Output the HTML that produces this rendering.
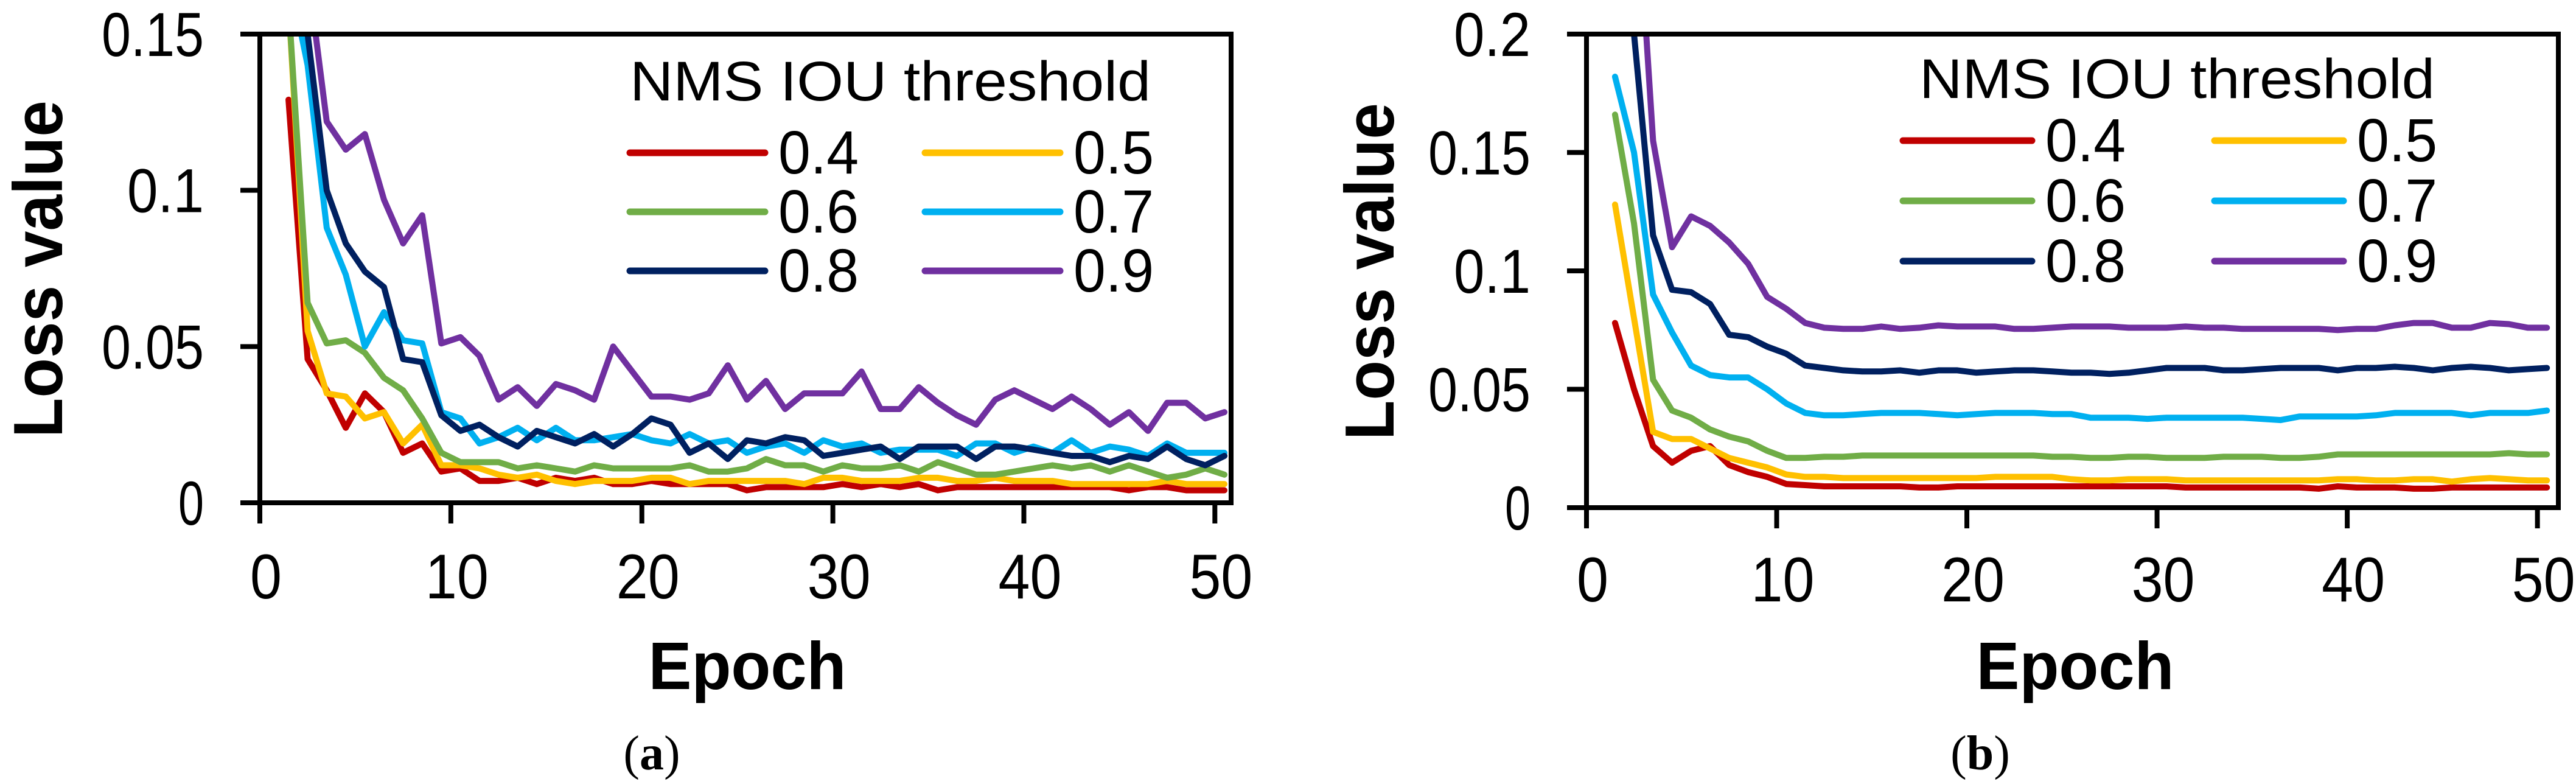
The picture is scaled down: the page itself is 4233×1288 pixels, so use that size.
<!DOCTYPE html>
<html><head><meta charset="utf-8"><style>html,body{margin:0;padding:0;background:#fff}svg{display:block}</style></head>
<body>
<svg id="fig" width="4233" height="1288" viewBox="0 0 4233 1288" xmlns="http://www.w3.org/2000/svg" font-family="Liberation Sans, sans-serif">
<g id="pa"></g>
<g id="pb"></g>
</svg>
<script>
const seriesNames=["0.4","0.5","0.6","0.7","0.8","0.9"];
const seriesColors=["#C00000","#FFC000","#70AD47","#00B0F0","#002060","#7030A0"];
const xTicks=[0,10,20,30,40,50];
const yTicksA=["0","0.05","0.1","0.15"];
const yTicksB=["0","0.05","0.1","0.15","0.2"];
const a04=[.129,.046,.036,.024,.035,.029,.016,.019,.010,.011,.007,.007,.008,.006,.008,.007,.008,.006,.006,.007,.006,.006,.006,.006,.004,.005,.005,.005,.005,.006,.005,.006,.005,.006,.004,.005,.005,.005,.005,.005,.005,.005,.005,.005,.004,.005,.005,.004,.004,.004];
const a05=[.160,.055,.035,.034,.027,.029,.019,.025,.012,.012,.011,.009,.008,.009,.007,.006,.007,.007,.007,.008,.008,.006,.007,.007,.007,.007,.007,.006,.008,.008,.007,.007,.007,.008,.008,.007,.007,.008,.007,.007,.007,.006,.006,.006,.006,.006,.007,.006,.006,.006];
const a06=[.160,.064,.051,.052,.048,.040,.036,.027,.016,.013,.013,.013,.011,.012,.011,.010,.012,.011,.011,.011,.011,.012,.010,.010,.011,.014,.012,.012,.010,.012,.011,.011,.012,.010,.013,.011,.009,.009,.010,.011,.012,.011,.012,.010,.012,.010,.008,.009,.011,.009];
const a07=[.170,.140,.088,.073,.050,.061,.052,.051,.029,.027,.019,.021,.024,.020,.024,.020,.020,.021,.022,.020,.019,.022,.019,.020,.016,.018,.019,.016,.020,.018,.019,.016,.017,.017,.017,.015,.019,.019,.016,.018,.016,.020,.016,.018,.017,.015,.019,.016,.016,.016];
const a08=[.170,.150,.100,.083,.074,.069,.046,.045,.028,.023,.025,.021,.018,.023,.021,.019,.022,.018,.022,.027,.025,.016,.019,.014,.020,.019,.021,.020,.015,.016,.017,.018,.014,.018,.018,.018,.014,.018,.018,.017,.016,.015,.015,.013,.015,.014,.018,.014,.012,.015];
const a09=[.200,.170,.122,.113,.118,.097,.083,.092,.051,.053,.047,.033,.037,.031,.038,.036,.033,.050,.042,.034,.034,.033,.035,.044,.033,.039,.030,.035,.035,.035,.042,.030,.030,.037,.032,.028,.025,.033,.036,.033,.030,.034,.030,.025,.029,.023,.032,.032,.027,.029];
const b04=[.078,.050,.026,.019,.024,.026,.018,.015,.013,.010,.0095,.009,.009,.009,.009,.009,.0085,.0085,.009,.009,.009,.009,.009,.009,.009,.009,.009,.009,.009,.009,.0085,.0085,.0085,.0085,.0085,.0085,.0085,.008,.009,.0085,.0085,.0085,.008,.008,.0085,.0085,.0085,.0085,.0085,.0085];
const b05=[.128,.080,.032,.029,.029,.025,.021,.019,.017,.014,.013,.013,.0125,.0125,.0125,.0125,.0125,.0125,.0125,.0125,.013,.013,.013,.013,.012,.0115,.0115,.012,.012,.012,.0115,.0115,.0115,.0115,.0115,.0115,.0115,.0115,.012,.012,.0115,.0115,.012,.012,.011,.012,.0125,.012,.0115,.0115];
const b06=[.166,.120,.054,.041,.038,.033,.030,.028,.024,.021,.021,.0215,.0215,.022,.022,.022,.022,.022,.022,.022,.022,.022,.022,.0215,.0215,.021,.021,.0215,.0215,.021,.021,.021,.0215,.0215,.0215,.021,.021,.0215,.0225,.0225,.0225,.0225,.0225,.0225,.0225,.0225,.0225,.023,.0225,.0225];
const b07=[.182,.150,.090,.074,.060,.056,.055,.055,.050,.044,.040,.039,.039,.0395,.040,.040,.040,.0395,.039,.0395,.040,.040,.040,.0395,.0395,.038,.038,.038,.0375,.038,.038,.038,.038,.038,.0375,.037,.0385,.0385,.0385,.0385,.039,.040,.040,.040,.040,.039,.040,.040,.040,.041];
const b08=[.300,.200,.115,.092,.091,.086,.073,.072,.068,.065,.060,.059,.058,.0575,.0575,.058,.057,.058,.058,.057,.0575,.058,.058,.0575,.057,.057,.0565,.057,.058,.059,.059,.059,.058,.058,.0585,.059,.059,.059,.058,.059,.059,.0595,.059,.058,.059,.0595,.059,.058,.0585,.059];
const b09=[.350,.280,.155,.110,.123,.119,.112,.103,.089,.084,.078,.076,.0755,.0755,.0765,.0755,.076,.077,.0765,.0765,.0765,.0755,.0755,.076,.0765,.0765,.0765,.076,.076,.076,.0765,.076,.076,.0755,.0755,.0755,.0755,.0755,.075,.0755,.0755,.077,.078,.078,.076,.076,.078,.0775,.076,.076];
const seriesA=[a04,a05,a06,a07,a08,a09];
const seriesB=[b04,b05,b06,b07,b08,b09];
const NS="http://www.w3.org/2000/svg";
function mk(parent,tag,attrs,txt){const e=document.createElementNS(NS,tag);for(const k in attrs)e.setAttribute(k,attrs[k]);if(txt!==undefined)e.textContent=txt;parent.appendChild(e);return e;}
function panel(g,cfg){
  const L=cfg.left,R=cfg.right,T=cfg.top,B=cfg.bottom;
  const xs=v=>L+(v/cfg.xmax)*(R-L);
  const ys=v=>B-(v/cfg.ymax)*(B-T);
  const clipId=cfg.id+"clip";
  const cp=mk(g,"clipPath",{id:clipId});mk(cp,"rect",{x:L,y:T,width:R-L,height:B-T});
  const lines=mk(g,"g",{"clip-path":"url(#"+clipId+")"});
  
  
  cfg.series.forEach((arr,si)=>{
    const pts=arr.map((v,i)=>xs(i+1.5).toFixed(1)+","+ys(v).toFixed(1)).join(" ");
    const pl=mk(lines,"polyline",{points:pts,fill:"none",stroke:seriesColors[si],"stroke-width":10,"stroke-linejoin":"round","stroke-linecap":"round"});
    
    
  });
  const box=mk(g,"rect",{x:L,y:T,width:R-L,height:B-T,fill:"none",stroke:"#000","stroke-width":8});
  
  
  cfg.yTicks.forEach(t=>{
    const y=ys(parseFloat(t));
    mk(g,"line",{x1:L-32,x2:L,y1:y,y2:y,stroke:"#000","stroke-width":8});
    const tx=mk(g,"text",{x:L-92,y:y+36,"text-anchor":"end","font-size":102,textLength:t.length*42,lengthAdjust:"spacingAndGlyphs"},t);
    
    
  });
  xTicks.forEach(t=>{
    const x=xs(t);
    mk(g,"line",{x1:x,x2:x,y1:B,y2:B+34,stroke:"#000","stroke-width":8});
    const s=String(t);
    const tx=mk(g,"text",{x:x+10,y:cfg.xlabY,"text-anchor":"middle","font-size":104,textLength:s.length*52,lengthAdjust:"spacingAndGlyphs"},s);
    
    
  });
  const yl=mk(g,"text",{transform:"translate("+cfg.ylabX+","+cfg.ylabC+") rotate(-90)","text-anchor":"middle","font-size":114,"font-weight":"bold",textLength:554,lengthAdjust:"spacingAndGlyphs"},"Loss value");
  
  
  const xl=mk(g,"text",{x:cfg.epochX,y:1132,"text-anchor":"middle","font-size":110,"font-weight":"bold",textLength:325,lengthAdjust:"spacingAndGlyphs"},"Epoch");
  
  
  const cap=mk(g,"text",{x:cfg.capX,y:1264,"text-anchor":"middle","font-size":80,"font-family":"Liberation Serif, serif"});
  
  
  mk(cap,"tspan",{},"(");
  mk(cap,"tspan",{"font-weight":"bold"},cfg.cap);
  mk(cap,"tspan",{},")");
  const lg=mk(g,"g",{});
  
  
  const lt=mk(lg,"text",{x:cfg.lgTitleX,y:cfg.lgTitleY,"font-size":92,textLength:cfg.lgTitleW,lengthAdjust:"spacingAndGlyphs"},"NMS IOU threshold");
  
  
  seriesNames.forEach((n,i)=>{
    const col=i%2,row=Math.floor(i/2);
    const x0=cfg.lgCols[col],y=cfg.lgRow0+row*cfg.lgDy;
    const e=mk(lg,"g",{});
    
    
    mk(e,"line",{x1:x0,x2:x0+cfg.lgLen,y1:y,y2:y,stroke:seriesColors[i],"stroke-width":11,"stroke-linecap":"round"});
    mk(e,"text",{x:x0+cfg.lgLen+22,y:y+34,"font-size":100,textLength:132,lengthAdjust:"spacingAndGlyphs"},n);
  });
}
panel(document.getElementById("pa"),{id:"a",left:427,right:2023,top:56,bottom:826,xmax:50.85,ymax:0.15,yTicks:yTicksA,series:seriesA,xlabY:983,ylabX:102,ylabC:442,epochX:1228,capX:1071,cap:"a",lgTitleX:1035,lgTitleY:165,lgTitleW:856,lgCols:[1035,1520],lgRow0:251,lgDy:97,lgLen:222});
panel(document.getElementById("pb"),{id:"b",left:2607,right:4204,top:56,bottom:834,xmax:51.1,ymax:0.2,yTicks:yTicksB,series:seriesB,xlabY:988,ylabX:2290,ylabC:446,epochX:3410,capX:3254,cap:"b",lgTitleX:3154,lgTitleY:161,lgTitleW:847,lgCols:[3127,3639],lgRow0:231,lgDy:99,lgLen:212});
</script>
</body></html>
